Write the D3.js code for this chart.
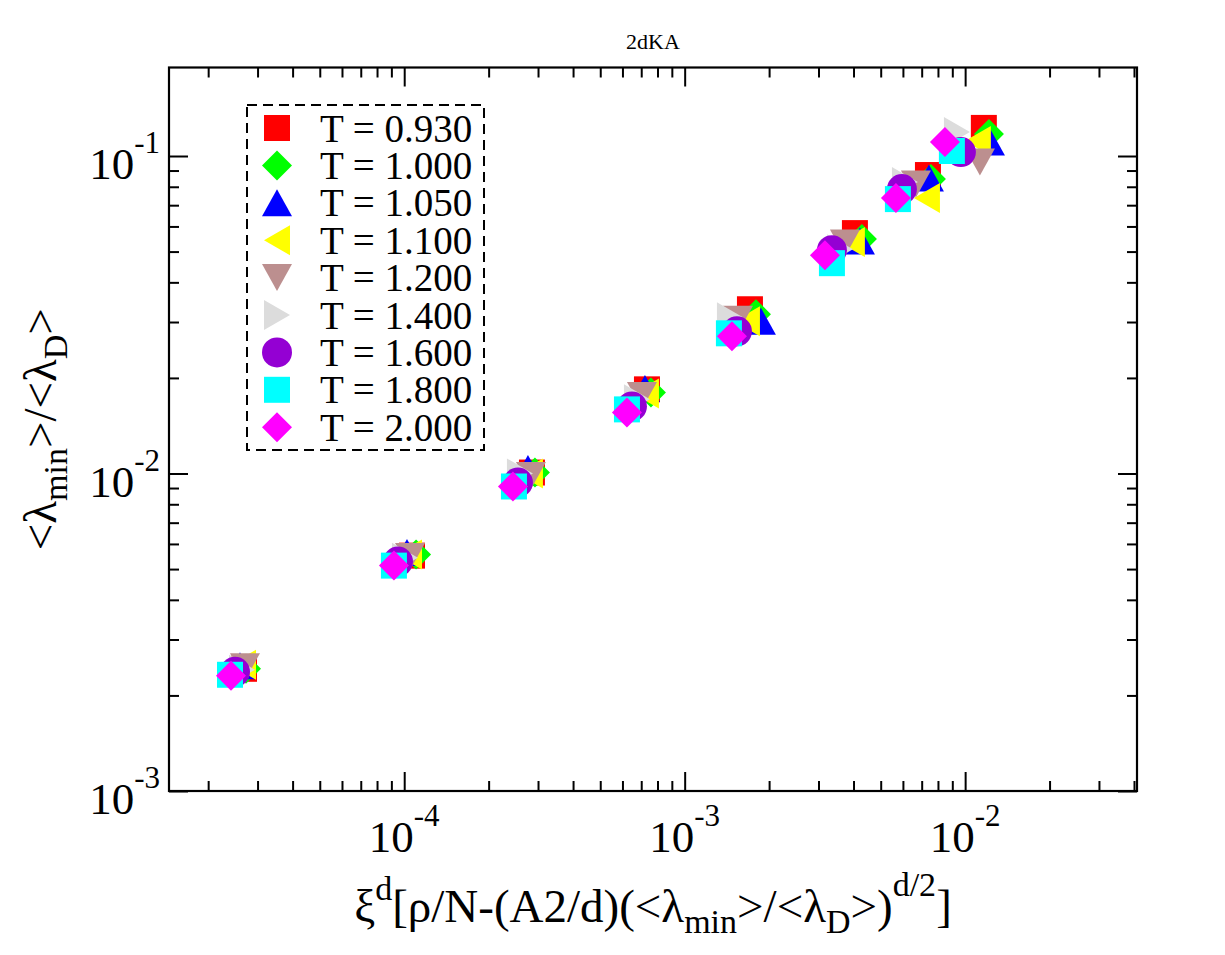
<!DOCTYPE html>
<html><head><meta charset="utf-8">
<script src="https://cdn.jsdelivr.net/npm/d3@7"></script>
<style>body{margin:0;background:#fff}</style>
</head><body>
<svg id="chart" width="1225" height="955"></svg>
<script>
// ---------------- data ----------------
const temperatures = ["0.930","1.000","1.050","1.100","1.200","1.400","1.600","1.800","2.000"];
const seriesColors = ["#ff0000","#00ff00","#0000ff","#ffff00","#bc8f8f","#dcdcdc","#9400d3","#00ffff","#ff00ff"];
const seriesSymbols = ["square","diamond","triangleUp","triangleLeft","triangleDown","triangleRight","circle","square","diamond"];

const xT0930 = [2.684e-5, 1.066e-4, 2.854e-4, 7.337e-4, 1.709e-3, 4.046e-3, 7.369e-3, 1.166e-2];
const yT0930 = [2.426e-3, 5.512e-3, 1.007e-2, 1.841e-2, 3.291e-2, 5.717e-2, 8.711e-2, 0.1226];
const xT1000 = [2.729e-5, 1.102e-4, 2.925e-4, 7.581e-4, 1.795e-3, 4.285e-3, 7.551e-3, 1.216e-2];
const yT1000 = [2.426e-3, 5.553e-3, 1.007e-2, 1.801e-2, 3.174e-2, 5.473e-2, 8.461e-2, 0.1173];
const xT1050 = [2.597e-5, 1.023e-4, 2.762e-4, 7.218e-4, 1.870e-3, 4.216e-3, 7.429e-3, 1.226e-2];
const yT1050 = [2.479e-3, 5.634e-3, 1.037e-2, 1.854e-2, 3.016e-2, 5.395e-2, 8.522e-2, 0.1107];
const xT1100 = [2.662e-5, 1.040e-4, 2.808e-4, 7.276e-4, 1.667e-3, 3.947e-3, 7.308e-3, 1.110e-2];
const yT1100 = [2.497e-3, 5.553e-3, 1.000e-2, 1.788e-2, 3.016e-2, 5.355e-2, 7.370e-2, 0.1115];
const xT1200 = [2.706e-5, 1.049e-4, 2.831e-4, 7.042e-4, 1.549e-3, 3.728e-3, 6.677e-3, 1.129e-2];
const yT1200 = [2.461e-3, 5.473e-3, 9.856e-3, 1.762e-2, 3.060e-2, 5.317e-2, 8.160e-2, 0.0957];
const xT1400 = [2.640e-5, 1.006e-4, 2.586e-4, 6.758e-4, 1.450e-3, 3.578e-3, 6.099e-3, 9.348e-3];
const yT1400 = [2.408e-3, 5.433e-3, 1.000e-2, 1.712e-2, 3.105e-2, 5.089e-2, 8.279e-2, 0.1191];
const xT1600 = [2.493e-5, 9.50e-5, 2.544e-4, 6.486e-4, 1.536e-3, 3.350e-3, 5.951e-3, 9.658e-3];
const yT1600 = [2.374e-3, 5.278e-3, 9.368e-3, 1.627e-2, 2.805e-2, 5.052e-2, 7.869e-2, 0.1029];
const xT1800 = [2.393e-5, 9.19e-5, 2.462e-4, 6.226e-4, 1.438e-3, 3.350e-3, 5.758e-3, 8.969e-3];
const yT1800 = [2.323e-3, 5.127e-3, 9.101e-3, 1.592e-2, 2.764e-2, 4.597e-2, 7.316e-2, 0.1037];
const xT2000 = [2.412e-5, 9.19e-5, 2.442e-4, 6.226e-4, 1.474e-3, 3.163e-3, 5.665e-3, 8.473e-3];
const yT2000 = [2.306e-3, 5.127e-3, 9.101e-3, 1.557e-2, 2.705e-2, 4.872e-2, 7.370e-2, 0.1107];

const xMajorTicks = [1e-4, 1e-3, 1e-2];
const xTickExponents = ["-4", "-3", "-2"];
const yMajorTicks = [1e-3, 1e-2, 1e-1];
const yTickExponents = ["-3", "-2", "-1"];

const xSeries = [xT0930,xT1000,xT1050,xT1100,xT1200,xT1400,xT1600,xT1800,xT2000];
const ySeries = [yT0930,yT1000,yT1050,yT1100,yT1200,yT1400,yT1600,yT1800,yT2000];

// ---------------- layout ----------------
const L = 169, R = 1137, T = 67.5, B = 791;
const FONT = "'Liberation Serif','Times New Roman',Times,serif";
const svg = d3.select("#chart").style("font-family", FONT);
svg.append("rect").attr("width",1225).attr("height",955).attr("fill","#fff");

const x = d3.scaleLog().domain([1.45e-5, 0.041]).range([L, R]);
const y = d3.scaleLog().domain([1e-3, 0.19]).range([B, T]);

function minorTicks(scale){
  const [a,b] = scale.domain(); const out=[];
  for (let e=-6; e<=0; e++) for (let m=2; m<=9; m++){
    const v = m*Math.pow(10,e); if (v>=a*0.999 && v<=b*1.001) out.push(v);
  }
  return out;
}
const xMinor = minorTicks(x), yMinor = minorTicks(y);

function tickGroup(axis, transform){
  const g = svg.append("g").attr("transform", transform).call(axis);
  g.select(".domain").remove();
  g.selectAll(".tick line").attr("stroke","#000").attr("stroke-width",2);
  g.selectAll(".tick text").remove();
  return g;
}
const MAJ = 19, MIN = 10;
tickGroup(d3.axisBottom(x).tickValues(xMajorTicks).tickSize(-MAJ), `translate(0,${B})`);
tickGroup(d3.axisBottom(x).tickValues(xMinor).tickSize(-MIN), `translate(0,${B})`);
tickGroup(d3.axisTop(x).tickValues(xMajorTicks).tickSize(-MAJ), `translate(0,${T})`);
tickGroup(d3.axisTop(x).tickValues(xMinor).tickSize(-MIN), `translate(0,${T})`);
tickGroup(d3.axisLeft(y).tickValues(yMajorTicks).tickSize(-MAJ), `translate(${L},0)`);
tickGroup(d3.axisLeft(y).tickValues(yMinor).tickSize(-MIN), `translate(${L},0)`);
tickGroup(d3.axisRight(y).tickValues(yMajorTicks).tickSize(-MAJ), `translate(${R},0)`);
tickGroup(d3.axisRight(y).tickValues(yMinor).tickSize(-MIN), `translate(${R},0)`);

// frame
svg.append("rect").attr("x",L).attr("y",T).attr("width",R-L).attr("height",B-T)
  .attr("fill","none").attr("stroke","#000").attr("stroke-width",2.2);

// tick labels
const TICKF = 45, SUPF = 31, SUPSHIFT = 26;
xMajorTicks.forEach((v,i)=>{
  const t = svg.append("text").attr("x", x(v)).attr("y", B+61).attr("text-anchor","middle")
    .style("font-size", TICKF+"px");
  t.append("tspan").text("10");
  t.append("tspan").attr("dy",-SUPSHIFT).style("font-size",SUPF+"px").text(xTickExponents[i]);
});
yMajorTicks.forEach((v,i)=>{
  const t = svg.append("text").attr("x", L-9).attr("y", y(v)+23).attr("text-anchor","end")
    .style("font-size", TICKF+"px");
  t.append("tspan").text("10");
  t.append("tspan").attr("dy",-SUPSHIFT).style("font-size",SUPF+"px").text(yTickExponents[i]);
});

// title
svg.append("text").attr("x",(L+R)/2).attr("y",49).attr("text-anchor","middle")
  .style("font-size","22px").text("2dKA");

// axis titles
const LABF = 47, SUBF = 34;
const xl = svg.append("text").attr("x",(L+R)/2).attr("y",922).attr("text-anchor","middle").style("font-size",LABF+"px");
xl.append("tspan").text("ξ");
xl.append("tspan").attr("dy",-22).style("font-size",SUBF+"px").text("d");
xl.append("tspan").attr("dy",22).text("[ρ/N-(A2/d)(<λ");
xl.append("tspan").attr("dy",11).style("font-size",SUBF+"px").text("min");
xl.append("tspan").attr("dy",-11).text(">/<λ");
xl.append("tspan").attr("dy",11).style("font-size",SUBF+"px").text("D");
xl.append("tspan").attr("dy",-11).text(">)");
xl.append("tspan").attr("dy",-26).style("font-size",SUBF+"px").text("d/2");
xl.append("tspan").attr("dy",26).text("]");

const yl = svg.append("text").attr("transform",`translate(56,${(T+B)/2}) rotate(-90)`)
  .attr("text-anchor","middle").style("font-size",LABF+"px");
yl.append("tspan").text("<λ");
yl.append("tspan").attr("dy",11).style("font-size",SUBF+"px").text("min");
yl.append("tspan").attr("dy",-11).text(">/<λ");
yl.append("tspan").attr("dy",11).style("font-size",SUBF+"px").text("D");
yl.append("tspan").attr("dy",-11).text(">");

// symbols
function symbolPath(type){
  switch(type){
    case "square": return "M-13,-13H13V13H-13Z";
    case "diamond": return "M0,-15L15,0L0,15L-15,0Z";
    case "triangleUp": return "M0,-13.5L15,13.5L-15,13.5Z";
    case "triangleDown": return "M0,13.5L15,-13.5L-15,-13.5Z";
    case "triangleLeft": return "M-13,0L13,-15L13,15Z";
    case "triangleRight": return "M13,0L-13,-15L-13,15Z";
    case "circle": return "M15,0A15,15 0 1,1 -15,0A15,15 0 1,1 15,0Z";
  }
}

const plot = svg.append("g");
temperatures.forEach((tLabel, s)=>{
  const pts = xSeries[s].map((xv,i)=>({x:xv, y:ySeries[s][i]}));
  plot.append("g").selectAll("path").data(pts).join("path")
    .attr("d", symbolPath(seriesSymbols[s]))
    .attr("transform", d=>`translate(${x(d.x)},${y(d.y)})`)
    .attr("fill", seriesColors[s]);
});

// legend
const lg = svg.append("g");
lg.append("rect").attr("x",247).attr("y",105).attr("width",237).attr("height",345)
  .attr("fill","#fff").attr("stroke","#000").attr("stroke-width",2).attr("stroke-dasharray","10,6");
temperatures.forEach((tLabel,s)=>{
  const cy = 128 + s*37.4;
  lg.append("path").attr("d", symbolPath(seriesSymbols[s])).attr("transform",`translate(277,${cy})`)
    .attr("fill", seriesColors[s]);
  lg.append("text").attr("x",320).attr("y",cy+13.5).style("font-size","39px").text("T = " + tLabel);
});
</script>
</body></html>
